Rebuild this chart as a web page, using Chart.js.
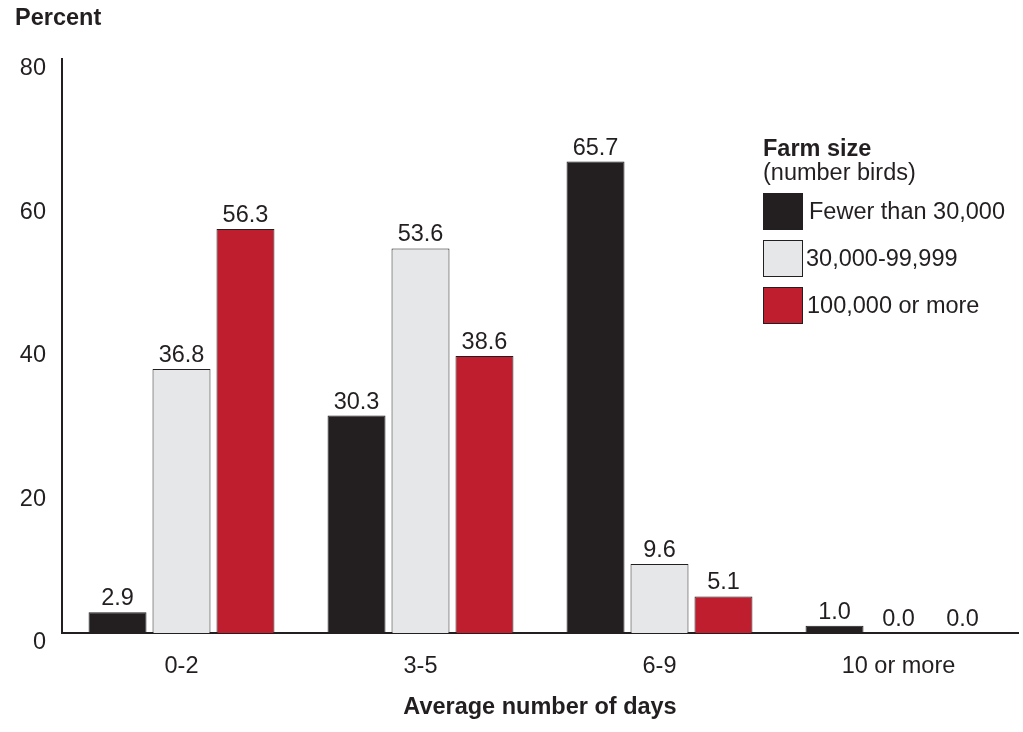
<!DOCTYPE html>
<html>
<head>
<meta charset="utf-8">
<script src="https://cdn.jsdelivr.net/npm/chart.js@4.4.0/dist/chart.umd.min.js"></script>
<style>
  html, body { margin: 0; padding: 0; background: #fff; }
  #wrap { width: 1023px; height: 732px; position: relative; }
</style>
</head>
<body>
<div id="wrap"><canvas id="chart"></canvas></div>
<script>
  // ── Data ────────────────────────────────────────────────────────────────
  const categories  = ['0-2', '3-5', '6-9', '10 or more'];
  const seriesNames = ['Fewer than 30,000', '30,000-99,999', '100,000 or more'];
  const fewer30k    = [2.9, 30.3, 65.7, 1.0];
  const mid30k100k  = [36.8, 53.6, 9.6, 0.0];
  const over100k    = [56.3, 38.6, 5.1, 0.0];
  const yTicks      = [0, 20, 40, 60, 80];

  // ── Colours ─────────────────────────────────────────────────────────────
  const INK   = '#231f20';
  const BLACK = '#231f20';
  const GREY  = '#e6e7e8';
  const RED   = '#be1e2d';
  const FONT  = '"Liberation Sans", Arial, sans-serif';
  const SIZE  = 23.5;

  const colours = [BLACK, GREY, RED];

  // Value labels above each bar
  const valueLabels = {
    id: 'valueLabels',
    afterDatasetsDraw(chart) {
      const ctx = chart.ctx;
      ctx.save();
      ctx.font = SIZE + 'px ' + FONT;
      ctx.fillStyle = INK;
      ctx.textAlign = 'center';
      ctx.textBaseline = 'alphabetic';
      chart.data.datasets.forEach((ds, i) => {
        chart.getDatasetMeta(i).data.forEach((bar, j) => {
          ctx.fillText(ds.data[j].toFixed(1), bar.x, bar.y - 7);
        });
      });
      ctx.restore();
    },
  };

  // Axis titles and the boxed legend at upper right
  const annotations = {
    id: 'annotations',
    afterDraw(chart) {
      const ctx = chart.ctx;
      const a = chart.chartArea;
      ctx.save();
      ctx.fillStyle = INK;
      ctx.textBaseline = 'alphabetic';

      ctx.font = 'bold ' + SIZE + 'px ' + FONT;
      ctx.textAlign = 'left';
      ctx.fillText('Percent', 15, 25);

      ctx.textAlign = 'center';
      ctx.fillText('Average number of days', (a.left + a.right) / 2, 714);

      // legend
      const lx = 763;
      ctx.textAlign = 'left';
      ctx.fillText('Farm size', lx, 156);
      ctx.font = SIZE + 'px ' + FONT;
      ctx.fillText('(number birds)', lx, 180);

      const swY = [193, 240, 287];
      const txX = [809, 806, 807];
      seriesNames.forEach((name, i) => {
        ctx.fillStyle = colours[i];
        ctx.fillRect(lx, swY[i], 40, 37);
        ctx.strokeStyle = INK;
        ctx.lineWidth = 1;
        ctx.strokeRect(lx + 0.5, swY[i] + 0.5, 39, 36);
        ctx.fillStyle = INK;
        ctx.textBaseline = 'middle';
        ctx.fillText(name, txX[i], swY[i] + 20);
      });
      ctx.restore();
    },
  };

  function barSet(label, data, colour) {
    return {
      label,
      data,
      backgroundColor: colour,
      borderColor:     INK,
      borderWidth:     1,
      categoryPercentage: 0.803,
      barPercentage:   0.906,
    };
  }

  new Chart(document.getElementById('chart'), {
    type: 'bar',
    data: {
      labels: categories,
      datasets: [
        barSet(seriesNames[0], fewer30k, BLACK),
        barSet(seriesNames[1], mid30k100k, GREY),
        barSet(seriesNames[2], over100k, RED),
      ],
    },
    plugins: [valueLabels, annotations],
    options: {
      responsive: true,
      maintainAspectRatio: false,
      animation: false,
      layout: { padding: { top: 59, right: 5, left: 0, bottom: 0 } },
      plugins: {
        legend:  { display: false },
        tooltip: { enabled: false },
      },
      scales: {
        x: {
          grid:   { display: false, drawTicks: false },
          border: { display: true, color: INK, width: 2 },
          ticks:  { color: INK, font: { family: FONT, size: SIZE }, padding: 19 },
          afterFit: s => { s.height = 99; },
        },
        y: {
          min: 0,
          max: 80,
          afterBuildTicks: s => { s.ticks = yTicks.map(v => ({ value: v })); },
          grid:   { display: false, drawTicks: false },
          border: { display: true, color: INK, width: 2 },
          ticks:  { color: INK, font: { family: FONT, size: SIZE }, padding: 16, labelOffset: 10 },
          afterFit: s => { s.width = 62; },
        },
      },
    },
  });
</script>
</body>
</html>
